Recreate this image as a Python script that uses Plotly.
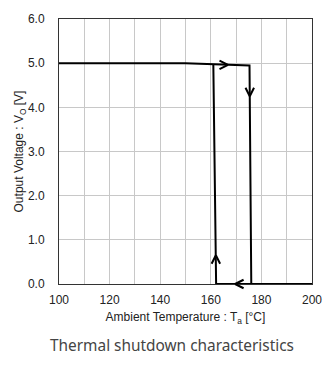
import plotly.graph_objects as go

# Heating path (output turns off)
heat_x = [100, 150, 175.3, 176.0, 200]
heat_y = [5.0, 5.0, 4.95, 0.0, 0.0]
# Cooling path (output recovers)
cool_x = [200, 162.1, 161.0]
cool_y = [0.0, 0.0, 4.97]

# Direction arrows: tip position and direction
arrow_x = [166.8, 175.4, 162.0, 169.6]
arrow_y = [4.96, 4.25, 0.65, 0.0]
arrow_dir = ["right", "down", "up", "left"]

x_ticks = [100, 120, 140, 160, 180, 200]
y_ticks = [0, 1, 2, 3, 4, 5, 6]

fig = go.Figure()
fig.add_trace(go.Scatter(x=heat_x, y=heat_y, mode="lines",
                         line=dict(color="black", width=2), showlegend=False))
fig.add_trace(go.Scatter(x=cool_x, y=cool_y, mode="lines",
                         line=dict(color="black", width=2), showlegend=False))

# chevron arms as headless annotation arrows (pixel offsets, screen y down)
L_back, L_side = 10, 5
back = {"right": (-1, 0), "left": (1, 0), "up": (0, 1), "down": (0, -1)}
for ax_, ay_, d in zip(arrow_x, arrow_y, arrow_dir):
    bx, by = back[d]
    sx, sy = -by, bx
    for sgn in (1, -1):
        fig.add_annotation(x=ax_, y=ay_, xref="x", yref="y", text="",
                           showarrow=True, arrowhead=0, arrowwidth=2, arrowcolor="black",
                           ax=bx * L_back + sgn * sx * L_side,
                           ay=by * L_back + sgn * sy * L_side,
                           standoff=0, startstandoff=0)

fig.update_xaxes(range=[100, 200], tickvals=x_ticks, ticktext=[str(v) for v in x_ticks],
                 showgrid=True, gridcolor="#c8c8c8", gridwidth=1,
                 showline=True, linecolor="#333", linewidth=1, mirror=True,
                 ticks="outside", ticklen=5, tickcolor="rgba(0,0,0,0)", zeroline=False,
                 tickfont=dict(family="Liberation Sans", size=12, color="#222"),
                 title=dict(text="Ambient Temperature : T<sub>a</sub> [°C]",
                            font=dict(family="Liberation Sans", size=12, color="#222"),
                            standoff=6))
fig.update_xaxes(minor=dict(dtick=10, showgrid=True, gridcolor="#c8c8c8", gridwidth=1))
fig.update_yaxes(range=[0, 6], tickvals=y_ticks, ticktext=[f"{v:.1f}" for v in y_ticks],
                 showgrid=True, gridcolor="#c8c8c8", gridwidth=1,
                 showline=True, linecolor="#333", linewidth=1, mirror=True,
                 ticks="outside", ticklen=11, tickcolor="rgba(0,0,0,0)", zeroline=False,
                 tickfont=dict(family="Liberation Sans", size=12, color="#222"),
                 title=dict(text="Output Voltage : V<sub>O</sub> [V]",
                            font=dict(family="Liberation Sans", size=12, color="#222"),
                            standoff=0))

fig.add_annotation(text="Thermal shutdown characteristics", xref="paper", yref="paper",
                   x=0.445, y=-0.233, xanchor="center", yanchor="middle", showarrow=False,
                   font=dict(family="Noto Sans", size=15.4, color="#444"))

fig.update_layout(width=334, height=368, margin=dict(l=59, r=22, t=17, b=84),
                  plot_bgcolor="white", paper_bgcolor="white")

fig.write_html("out.html")
